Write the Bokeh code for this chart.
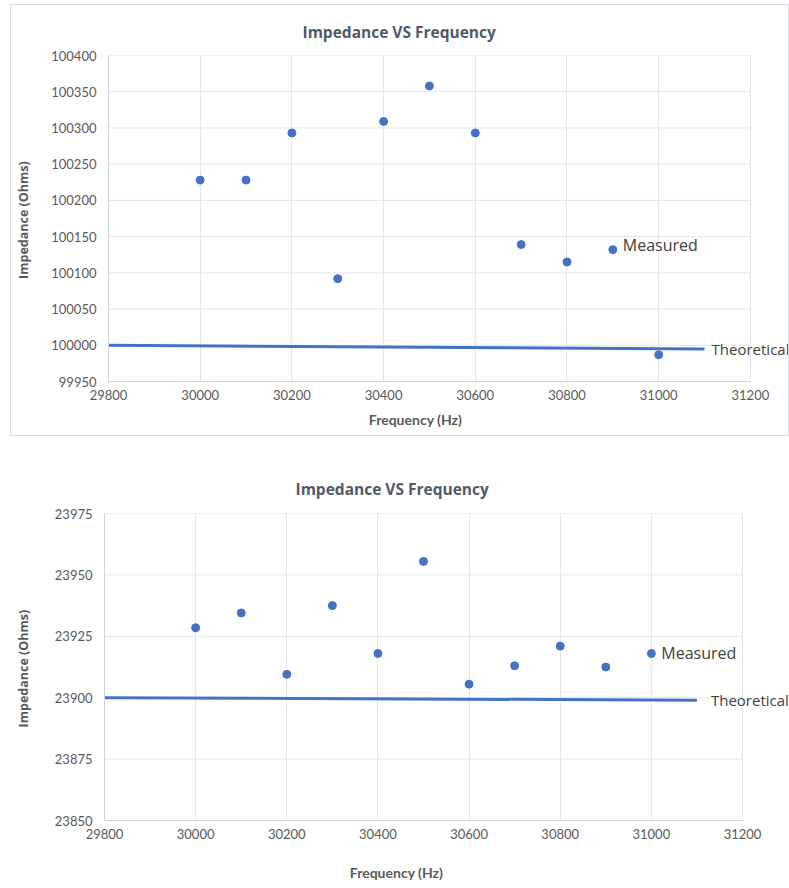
from bokeh.plotting import figure
from bokeh.layouts import column
from bokeh.models import Label, FixedTicker, ColumnDataSource, BasicTickFormatter
from bokeh.embed import file_html
from bokeh.resources import INLINE

# ---------------- data ----------------
freq = [30000, 30100, 30200, 30300, 30400, 30500, 30600, 30700, 30800, 30900, 31000]

measured_1 = [100228, 100228, 100293, 100092, 100309, 100358, 100293, 100139, 100115, 100132, 99987]
theory_freq_1 = [29800, 31100]
theory_1 = [100000, 99995]

measured_2 = [23928.5, 23934.5, 23909.5, 23937.5, 23918, 23955.5, 23905.5, 23913, 23921, 23912.5, 23918]
theory_freq_2 = [29800, 31100]
theory_2 = [23900, 23899]

x_ticks = [29800, 30000, 30200, 30400, 30600, 30800, 31000, 31200]
y_ticks_1 = [99950, 100000, 100050, 100100, 100150, 100200, 100250, 100300, 100350, 100400]
y_ticks_2 = [23850, 23875, 23900, 23925, 23950, 23975]

title_text = "Impedance VS Frequency"
x_label = "Frequency (Hz)"
y_label = "Impedance  (Ohms)"
series_names = ["Measured", "Theoretical"]

BLUE = "#4472C4"
TEXT = "#595959"
TITLE = "#505a68"
GRID = "#e3e6ec"

FRAME_LEFT = 97  # same for both charts (the column aligns the plot frames)


def make_chart(measured, tfreq, theory, yticks, width, height, frame_w, tick_right_px,
               borders, margin, title_offset, title_standoff, ylabel_standoff, xlabel_x, xlabel_y,
               meas_idx, meas_dy, theo_off, border=False):
    bt, bb = borders
    # the plot frame runs to the right edge of the canvas so that the series label
    # may overflow past the last tick; the visible axis stops at the last tick.
    x_end = x_ticks[0] + frame_w * (x_ticks[-1] - x_ticks[0]) / tick_right_px
    p = figure(width=width, height=height, output_backend="svg", toolbar_location=None,
               x_range=(x_ticks[0], x_end), y_range=(yticks[0], yticks[-1]),
               min_border_left=FRAME_LEFT, min_border_right=0, min_border_top=bt, min_border_bottom=bb,
               margin=margin)
    if border:
        p.styles = {"border": "1px solid #dadde2", "box-sizing": "border-box"}
    p.background_fill_color = "white"
    p.border_fill_color = "white"
    p.outline_line_color = None

    # title
    p.title.text = title_text
    p.title.align = "left"
    p.title.offset = title_offset
    p.title.text_font = "Open Sans"
    p.title.text_font_style = "bold"
    p.title.text_font_size = "15.5px"
    p.title.text_color = TITLE
    p.title.standoff = title_standoff

    p.xaxis.ticker = FixedTicker(ticks=x_ticks)
    p.yaxis.ticker = FixedTicker(ticks=yticks)
    p.yaxis.formatter = BasicTickFormatter(use_scientific=False)
    p.xaxis.formatter = BasicTickFormatter(use_scientific=False)
    p.xaxis.bounds = (x_ticks[0], x_ticks[-1])
    for ax in (p.xaxis[0], p.yaxis[0]):
        ax.axis_line_color = "#d0d4da"
        ax.major_tick_line_color = None
        ax.minor_tick_line_color = None
        ax.major_tick_out = 0
        ax.major_tick_in = 0
        ax.minor_tick_out = 0
        ax.minor_tick_in = 0
        ax.major_label_text_font = "Lato"
        ax.major_label_text_font_size = "13px"
        ax.major_label_text_color = TEXT
    p.xaxis.major_label_standoff = 8
    p.yaxis.axis_label = y_label
    p.yaxis.axis_label_text_color = TEXT
    p.yaxis.axis_label_text_font_style = "bold"
    p.yaxis.axis_label_text_font = "Open Sans"
    p.yaxis.axis_label_text_font_size = "12.5px"
    p.yaxis.axis_label_standoff = ylabel_standoff
    p.yaxis.major_label_standoff = 12

    # x-axis title as a label in the bottom panel (centred on the chart, like the original)
    p.add_layout(Label(x=xlabel_x, y=xlabel_y, x_units="screen", y_units="screen", text=x_label,
                       text_align="center", text_baseline="middle", text_font="Lato",
                       text_font_style="bold", text_font_size="14px", text_color=TEXT), "below")

    # grid: vertical lines at x ticks; horizontal lines only across the tick span
    p.xgrid.grid_line_color = GRID
    p.xgrid.ticker = FixedTicker(ticks=x_ticks)
    p.ygrid.visible = False
    n = len(yticks)
    p.segment(x0=[x_ticks[0]] * n, x1=[x_ticks[-1]] * n, y0=yticks, y1=yticks,
              line_color=GRID, line_width=1)

    src_m = ColumnDataSource(dict(x=freq, y=measured))
    src_t = ColumnDataSource(dict(x=tfreq, y=theory))
    p.line("x", "y", source=src_t, line_color=BLUE, line_width=3)
    p.scatter("x", "y", source=src_m, size=8, fill_color=BLUE, line_color=BLUE)

    # data labels
    p.add_layout(Label(x=freq[meas_idx], y=measured[meas_idx] + meas_dy, text=series_names[0],
                       x_offset=10, text_baseline="middle", text_font="Open Sans",
                       text_font_size="16px", text_color="#404040"))
    p.add_layout(Label(x=tfreq[-1], y=theory[-1], text=series_names[1],
                       x_offset=theo_off, text_baseline="middle", text_font="Open Sans",
                       text_font_size="15px", text_color="#404040"))
    return p


# top chart: box x 10..789, frame from x=108; 31200 tick at x=748
p1 = make_chart(measured_1, theory_freq_1, theory_1, y_ticks_1,
                width=779, height=432, frame_w=680, tick_right_px=640,
                borders=(50, 56), margin=(4, 0, 0, 10),
                title_offset=194, title_standoff=25, ylabel_standoff=16, xlabel_x=307, xlabel_y=0,
                meas_idx=9, meas_dy=7, theo_off=7, border=True)

# bottom chart: canvas x 7..789, frame from x=104; 31200 tick at x=742
p2 = make_chart(measured_2, theory_freq_2, theory_2, y_ticks_2,
                width=782, height=448, frame_w=685, tick_right_px=638,
                borders=(73, 68), margin=(4, 0, 0, 7),
                title_offset=191, title_standoff=27, ylabel_standoff=20, xlabel_x=292, xlabel_y=-14,
                meas_idx=10, meas_dy=0, theo_off=14)

layout = column(p1, p2, spacing=0)
open("out.html", "w").write(file_html(layout, INLINE))
